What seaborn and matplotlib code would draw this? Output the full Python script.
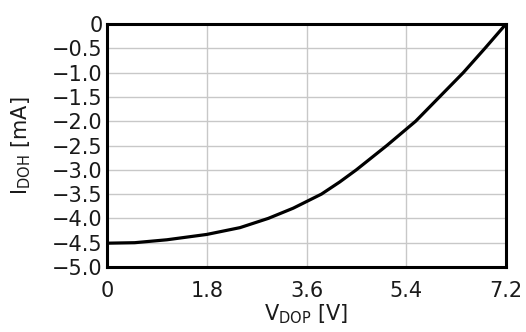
import matplotlib
matplotlib.use("Agg")
import matplotlib.pyplot as plt
import seaborn as sns
import pandas as pd

v_dop = [0, 0.5, 1.08, 1.8, 2.4, 2.91, 3.36, 3.87, 4.2, 4.5, 5.05, 5.57, 6.0, 6.43, 6.82, 7.2]
i_doh = [-4.51, -4.50, -4.44, -4.33, -4.19, -4.0, -3.79, -3.5, -3.25, -3.0, -2.5, -2.0, -1.5, -1.0, -0.5, 0]
x_ticks = [0, 1.8, 3.6, 5.4, 7.2]
x_labels = ["0", "1.8", "3.6", "5.4", "7.2"]
y_ticks = [0, -0.5, -1.0, -1.5, -2.0, -2.5, -3.0, -3.5, -4.0, -4.5, -5.0]
y_labels = ["0", "\u22120.5", "\u22121.0", "\u22121.5", "\u22122.0", "\u22122.5",
            "\u22123.0", "\u22123.5", "\u22124.0", "\u22124.5", "\u22125.0"]

sns.set_theme(style="white")
plt.rcParams['font.family'] = ['DejaVu Sans']
plt.rcParams['mathtext.fontset'] = 'dejavusans'

df = pd.DataFrame({"V": v_dop, "I": i_doh})

fig = plt.figure(figsize=(5.26, 3.32), dpi=100)
ax = fig.add_axes([107/526, 1-267/332, (506-107)/526, (267-24)/332])
sns.lineplot(data=df, x="V", y="I", ax=ax, color="black", linewidth=2.3)

ax.set_xlim(0, 7.2)
ax.set_ylim(-5.0, 0)
ax.set_xticks(x_ticks)
ax.set_xticklabels(x_labels)
ax.set_yticks(y_ticks)
ax.set_yticklabels(y_labels)
ax.tick_params(axis="x", length=0, labelsize=15, colors="#1a1a1a", pad=10)
ax.tick_params(axis="y", length=0, labelsize=15, colors="#1a1a1a", pad=3)
ax.grid(True, color="#c8c8c8", linewidth=1.0)
for s in ax.spines.values():
    s.set_color("black")
    s.set_linewidth(2.2)
ax.set_xlabel(r"V$_{\mathregular{DOP}}$ [V]", fontsize=15, color="#1a1a1a")
ax.set_ylabel(r"I$_{\mathregular{DOH}}$ [mA]", fontsize=15, color="#1a1a1a")
ax.xaxis.set_label_coords(0.5, -0.145)
ax.yaxis.set_label_coords(-0.185, 0.5)

fig.savefig("out.png", dpi=100)
